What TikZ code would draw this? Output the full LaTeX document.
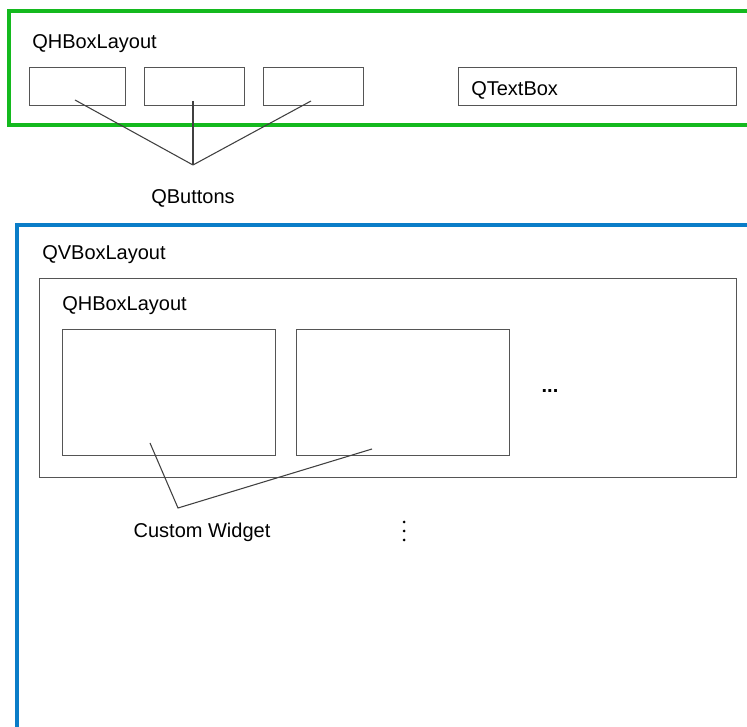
\documentclass[tikz,border=0pt]{standalone}
\usepackage{fontspec}
\setmainfont{Liberation Sans}
\usetikzlibrary{positioning}
\definecolor{laygreen}{RGB}{20,185,30}
\definecolor{layblue}{RGB}{10,125,200}
\definecolor{boxgray}{RGB}{85,85,85}
\tikzset{
  widgetbox/.style={draw=boxgray,line width=1.0pt,rectangle,inner sep=0pt,anchor=north west},
  lbl/.style={font=\fontsize{15}{18}\selectfont,inner sep=0pt},
  pointer/.style={draw=black!75,line width=0.8pt}
}
\begin{document}
\begin{tikzpicture}[x=0.75pt,y=-0.75pt]
		\useasboundingbox (0,0) rectangle (747,727);
		\clip (0,0) rectangle (747,727);
		% top layout
		\draw[laygreen,line width=2.5pt] (760,11) -- (9,11) -- (9,125) -- (760,125);
		\node[lbl,anchor=west] (toplay) at (32,44) {QHBoxLayout};
		\node[widgetbox,minimum width=72pt,minimum height=28.5pt] (btnA) at (29,67) {};
		\node[widgetbox,minimum width=75pt,minimum height=28.5pt] (btnB) at (144,67) {};
		\node[widgetbox,minimum width=75pt,minimum height=28.5pt] (btnC) at (263,67) {};
		\node[widgetbox,minimum width=208.5pt,minimum height=28.5pt] (tbox) at (458,67) {};
		\node[lbl,anchor=west] (tboxlbl) at (471,90) {QTextBox};
		\coordinate (bjoin) at (193,165);
		\draw[pointer] (75,100) -- (bjoin);
		\draw[pointer] (193,101) -- (bjoin);
		\draw[pointer] (311,101) -- (bjoin);
		\node[lbl] (qbtn) at (193,198) {QButtons};
		% bottom layout
		\draw[layblue,line width=2.5pt] (17,740) -- (17,225) -- (760,225);
		\node[lbl,anchor=west] (vlay) at (42,255) {QVBoxLayout};
		\node[widgetbox,minimum width=522.75pt,minimum height=149.25pt] (inner) at (39,278) {};
		\node[lbl,anchor=west] (hlay) at (62,306) {QHBoxLayout};
		\node[widgetbox,minimum width=159.75pt,minimum height=94.5pt] (wgA) at (62,329) {};
		\node[widgetbox,minimum width=159.75pt,minimum height=94.5pt] (wgB) at (296,329) {};
		\node[lbl] (more) at (550,391) {\textbf{...}};
		\coordinate (wjoin) at (178,508);
		\draw[pointer] (150,443) -- (wjoin) -- (372,449);
		\node[lbl] (cust) at (202,532) {Custom Widget};
		\foreach \y in {522,531,540}
		\fill (404,\y) circle (1.5);
	\end{tikzpicture}
\end{document}
